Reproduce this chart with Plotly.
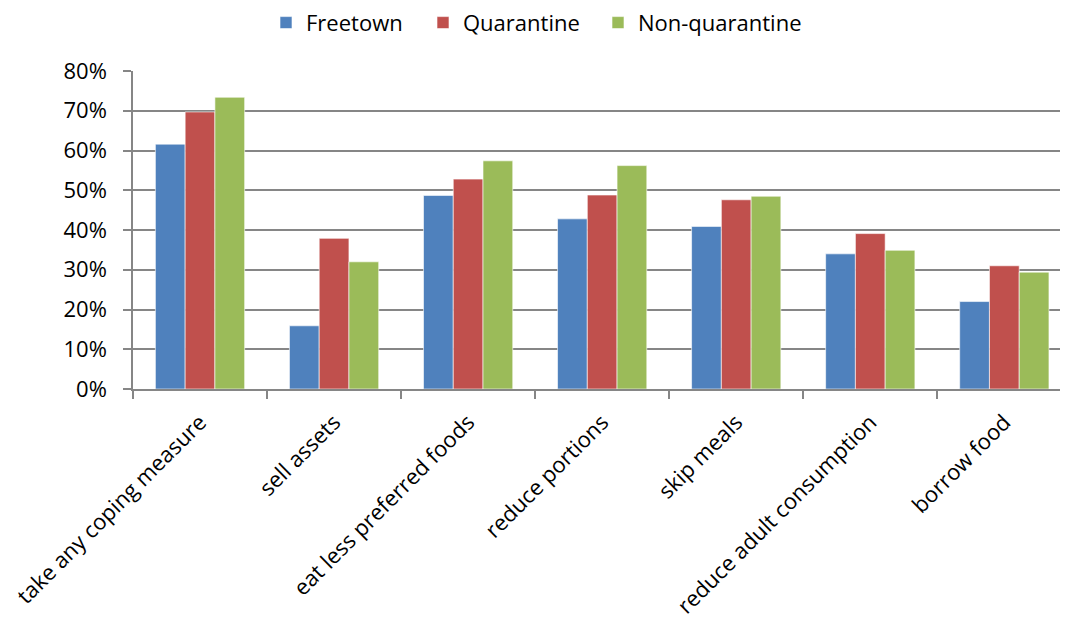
import plotly.graph_objects as go

categories = ["take any coping measure", "sell assets", "eat less preferred foods",
              "reduce portions", "skip meals", "reduce adult consumption", "borrow food"]
freetown = [0.616, 0.159, 0.487, 0.428, 0.409, 0.340, 0.220]
quarantine = [0.697, 0.379, 0.528, 0.488, 0.476, 0.391, 0.310]
non_quarantine = [0.734, 0.320, 0.574, 0.562, 0.485, 0.349, 0.294]
series_names = ["Freetown", "Quarantine", "Non-quarantine"]
colors = ["#4F81BD", "#C0504D", "#9BBB59"]
y_ticks = [0, 0.1, 0.2, 0.3, 0.4, 0.5, 0.6, 0.7, 0.8]

legend_ids = ["legend", "legend2", "legend3"]
legend_x = [258, 415, 590]

fig = go.Figure()
for name, vals, col, lid in zip(series_names, [freetown, quarantine, non_quarantine], colors, legend_ids):
    fig.add_trace(go.Bar(x=categories, y=vals, name=name, legend=lid,
                         marker=dict(color=col, line=dict(color="rgba(255,255,255,0.6)", width=1))))

font_family = "Open Sans, Liberation Sans, sans-serif"
legend_layout = {}
for lid, lx in zip(legend_ids, legend_x):
    legend_layout[lid] = dict(orientation="h", xref="container", yref="container",
                              x=lx / 1060, xanchor="left", y=0.976, yanchor="middle",
                              font=dict(size=22), itemwidth=30, bgcolor="rgba(0,0,0,0)")

fig.update_layout(
    width=1060, height=617,
    margin=dict(l=125, r=0, t=63, b=236, autoexpand=False),
    paper_bgcolor="white", plot_bgcolor="white",
    barmode="group", bargap=0.334, bargroupgap=0,
    font=dict(family=font_family, size=22, color="black"),
    showlegend=True,
    xaxis=dict(range=[-0.5, 6.475], showline=True, linecolor="#868686", linewidth=1.5,
               ticks="outside", tickson="boundaries", ticklen=8, tickcolor="#868686",
               tickwidth=1.5, tickangle=-45, tickfont=dict(size=22), showgrid=False,
               ticklabelstandoff=10, automargin=False),
    yaxis=dict(range=[0, 0.8], tickvals=y_ticks, tickformat=".0%",
               showline=True, linecolor="#868686", linewidth=1.5,
               ticks="outside", ticklen=8, tickcolor="#868686", tickwidth=1.5,
               showgrid=True, gridcolor="#868686", gridwidth=1.5,
               tickfont=dict(size=22), zeroline=False, ticklabelstandoff=12,
               automargin=False),
    **legend_layout,
)

fig.write_html("out.html")
